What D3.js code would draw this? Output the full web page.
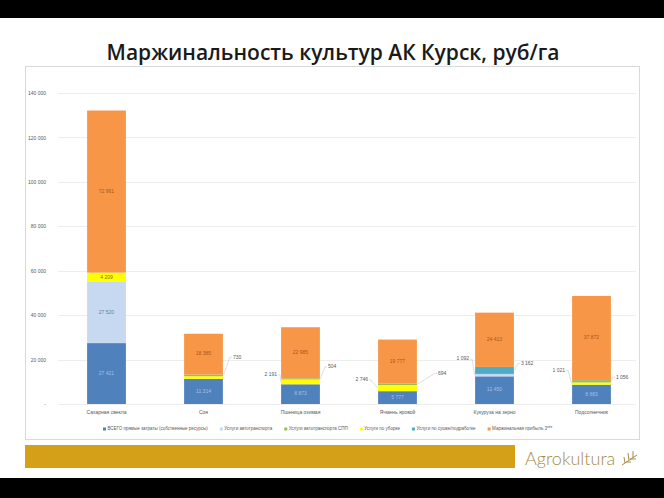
<!DOCTYPE html>
<html><head><meta charset="utf-8">
<script src="https://cdn.jsdelivr.net/npm/d3@7"></script>
<style>body{margin:0;background:#fff}svg{display:block}</style>
</head><body>
<script>
const categories = ["Сахарная свекла","Соя","Пшеница озимая","Ячмень яровой","Кукуруза на зерно","Подсолнечник"];
const directCosts   = [27421, 11314, 8873, 5777, 12450, 8683];
const transport     = [27520, 0, 0, 0, 1092, 0];
const harvest       = [4209, 1200, 2191, 2746, 0, 1021];
const transportSPP  = [0, 730, 504, 694, 0, 1056];
const drying        = [0, 0, 0, 0, 3162, 0];
const margin        = [72961, 18385, 22985, 19777, 24413, 37872];
const yTicks = [0, 20000, 40000, 60000, 80000, 100000, 120000, 140000];
const seriesNames = ["ВСЕГО прямые затраты (собственные ресурсы)","Услуги автотранспорта","Услуги автотранспорта СПП","Услуги по уборке","Услуги по сушке/подработке","Маржинальная прибыль 3***"];

const series = [
  {key:"direct", name:seriesNames[0], vals:directCosts, color:"#4f81bd", lc:"#a9c0e0"},
  {key:"transport", name:seriesNames[1], vals:transport, color:"#c6d9f1", lc:"#6b7d94"},
  {key:"spp", name:seriesNames[2], vals:transportSPP, color:"#9bbb59", lc:"#595959"},
  {key:"harvest", name:seriesNames[3], vals:harvest, color:"#ffff00", lc:"#7a7a00"},
  {key:"drying", name:seriesNames[4], vals:drying, color:"#4bacc6", lc:"#595959"},
  {key:"margin", name:seriesNames[5], vals:margin, color:"#f79646", lc:"#a9561c"}
];
const stackOrder = ["direct","transport","harvest","spp","drying","margin"];
const insideShown = {direct:[0,1,2,3,4,5], transport:[0], harvest:[0], margin:[0,1,2,3,4,5]};
const callouts = [
  {c:1, s:"spp", side:"right", dx:10, dy:-18},
  {c:2, s:"harvest", side:"left", dx:4, dy:-7},
  {c:2, s:"spp", side:"right", dx:8, dy:-12},
  {c:3, s:"harvest", side:"left", dx:10, dy:-8},
  {c:3, s:"spp", side:"right", dx:21, dy:-11},
  {c:4, s:"transport", side:"left", dx:6, dy:-16},
  {c:4, s:"drying", side:"right", dx:7, dy:-7},
  {c:5, s:"harvest", side:"left", dx:7, dy:-13},
  {c:5, s:"spp", side:"right", dx:5, dy:-4}
];

const W = 664, H = 498;
const svg = d3.select("body").append("svg").attr("width", W).attr("height", H);
const fmt = v => v === 0 ? "-" : d3.format(",")(v).replace(/,/g, " ");
const small = "'Liberation Sans', Arial, sans-serif";

// frame
svg.append("rect").attr("x",0).attr("y",0).attr("width",W).attr("height",18).attr("fill","#000");
svg.append("rect").attr("x",0).attr("y",478).attr("width",W).attr("height",20).attr("fill","#000");
svg.append("text").attr("x",333).attr("y",60).attr("text-anchor","middle")
  .attr("font-family","'Open Sans', sans-serif").attr("font-weight",600).attr("font-size",21)
  .attr("fill","#1a1a1a").text("Маржинальность культур АК Курск, руб/га");
svg.append("rect").attr("x",25.5).attr("y",66.5).attr("width",614).attr("height",373)
  .attr("fill","#fff").attr("stroke","#d9d9d9");
svg.append("rect").attr("x",25).attr("y",445).attr("width",490).attr("height",23).attr("fill","#d4a018");
svg.append("text").attr("x",525).attr("y",465)
  .attr("font-family","Lato, sans-serif").attr("font-weight",300).attr("font-size",18)
  .attr("fill","#a38b48").text("Agrokultura");
const ic = svg.append("g").attr("stroke","#a38b48").attr("stroke-width",1).attr("fill","none");
ic.append("path").attr("d","M622,465 L637,455 M625,463 L624,457 M629,460 L628,453 M633,458 L633,451 M626,462 L631,462 M630,459 L636,459");

// scales
const x = d3.scaleBand().domain(categories).range([58, 640]).paddingInner(0.6).paddingOuter(0.3);
const y = d3.scaleLinear().domain([0, 140000]).range([404, 93]);

// grid
svg.append("g").selectAll("line").data(yTicks).join("line")
  .attr("x1",58).attr("x2",636).attr("y1",d=>Math.round(y(d))+0.5).attr("y2",d=>Math.round(y(d))+0.5)
  .attr("stroke","#e8e8e8").attr("stroke-width",0.8);

// y axis
const ya = svg.append("g").attr("transform","translate(46,0)")
  .call(d3.axisLeft(y).tickValues(yTicks).tickSize(0).tickPadding(0).tickFormat(fmt));
ya.select(".domain").remove();
ya.selectAll("text").attr("font-family",small).attr("font-size",5).attr("fill","#595959");

// x axis labels
const xa = svg.append("g").attr("transform","translate(0,410)")
  .call(d3.axisBottom(x).tickSize(0).tickPadding(0));
xa.select(".domain").remove();
xa.selectAll("text").attr("font-family",small).attr("font-size",5).attr("fill","#595959");

// stacked bars
const byKey = {}; series.forEach(s => byKey[s.key] = s);
const table = categories.map((c,i) => {
  const o = {cat:c}; series.forEach(s => o[s.key] = s.vals[i]); return o;
});
const stacked = d3.stack().keys(stackOrder)(table);
const segPos = {};
stacked.forEach(layer => {
  const s = byKey[layer.key];
  segPos[layer.key] = layer;
  svg.append("g").selectAll("rect").data(layer.filter(d => d[1] > d[0])).join("rect")
    .attr("x", d => x(d.data.cat)).attr("width", x.bandwidth())
    .attr("y", d => y(d[1])).attr("height", d => y(d[0]) - y(d[1]))
    .attr("fill", s.color);
});
// inside labels
Object.keys(insideShown).forEach(k => {
  const s = byKey[k];
  insideShown[k].forEach(i => {
    const d = segPos[k][i];
    svg.append("text").attr("x", x(categories[i]) + x.bandwidth()/2).attr("y", y((d[0]+d[1])/2))
      .attr("text-anchor","middle").attr("dominant-baseline","middle")
      .attr("font-family",small).attr("font-size",5)
      .attr("fill", s.lc).text(fmt(s.vals[i]));
  });
});
// callouts
callouts.forEach(co => {
  const d = segPos[co.s][co.c];
  const sy = y((d[0]+d[1])/2);
  const bx0 = x(categories[co.c]), bx1 = bx0 + x.bandwidth();
  const ty = sy + co.dy;
  let tx, anchor, path;
  if (co.side === "right") {
    tx = bx1 + co.dx; anchor = "start";
    path = `M${bx1+0.5},${sy} L${tx-3},${ty} L${tx-1},${ty}`;
  } else {
    tx = bx0 - co.dx; anchor = "end";
    path = `M${bx0-0.5},${sy} L${tx+3},${ty} L${tx+1},${ty}`;
  }
  svg.append("path").attr("d", path).attr("fill","none").attr("stroke","#c8c8c8").attr("stroke-width",0.6);
  svg.append("text").attr("x", tx).attr("y", ty).attr("text-anchor", anchor).attr("dominant-baseline","middle")
    .attr("font-family",small).attr("font-size",5)
    .attr("fill","#595959").text(fmt(byKey[co.s].vals[co.c]));
});

// legend
const lg = svg.append("g");
let lx = 103;
series.forEach(s => {
  lg.append("rect").attr("x", lx).attr("y", 427.5).attr("width",3).attr("height",3).attr("fill", s.color);
  const t = lg.append("text").attr("x", lx + 4.5).attr("y", 429).attr("dominant-baseline","middle")
    .attr("font-family",small).attr("font-size",4.5)
    .attr("fill","#595959").text(s.name);
  lx += 4.5 + t.node().getComputedTextLength() + 12;
});
</script>
</body></html>
